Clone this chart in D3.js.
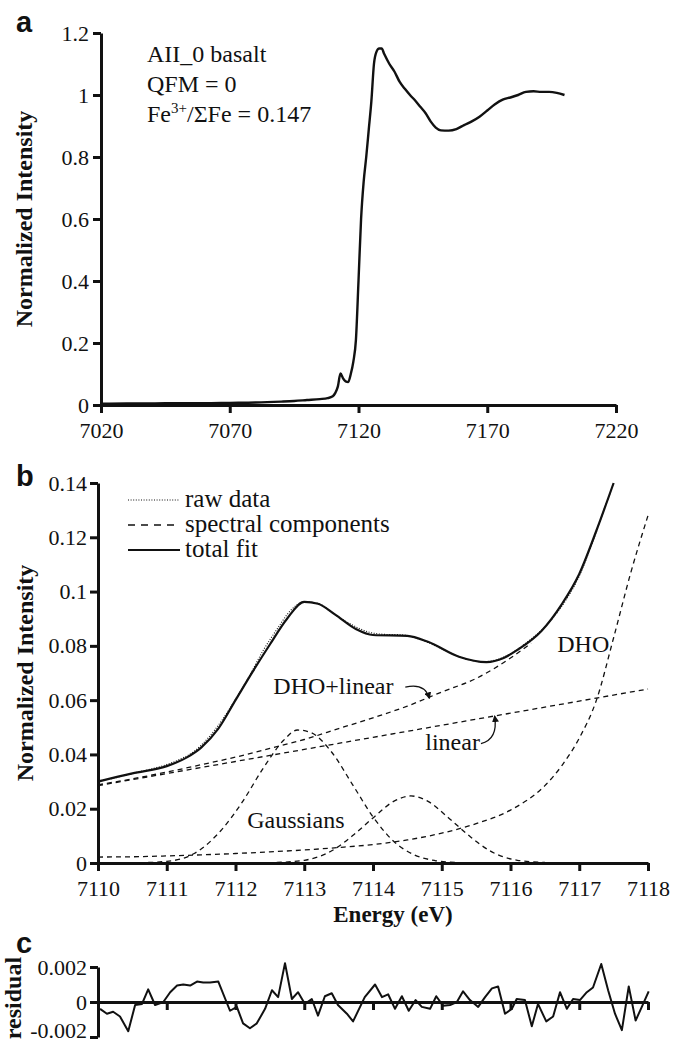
<!DOCTYPE html>
<html>
<head>
<meta charset="utf-8">
<script src="https://cdn.jsdelivr.net/npm/d3@7"></script>
<style>
  body { margin: 0; background: #fff; }
  svg { display: block; background: #fff; }
  svg text { font-family: "Liberation Serif", "Times New Roman", serif !important; fill: #111; }
  .axis path, .axis line { stroke: #111; stroke-width: 3; }
  svg .axis text { font-size: 22px !important; }
  svg text.panel-letter { font-family: "Liberation Sans", Arial, sans-serif !important; font-weight: bold; font-size: 29px; }
  .ytitle { font-weight: bold; font-size: 24px; }
</style>
</head>
<body>
<svg id="chart" width="676" height="1044"></svg>
<script>
// ---------- (a) full XANES spectrum ----------
const edgeEnergy = [7020, 7030, 7040, 7050, 7060, 7070, 7080, 7090, 7095, 7100, 7105, 7108, 7110,
  7111, 7112, 7113, 7114, 7115, 7116, 7117, 7118, 7119, 7120, 7121, 7122, 7123, 7124, 7125, 7126,
  7127, 7128, 7129, 7130, 7132, 7134, 7136, 7138, 7140, 7142, 7144, 7146, 7148, 7150, 7152, 7155,
  7158, 7161, 7164, 7167, 7170, 7173, 7176, 7179, 7182, 7185, 7188, 7191, 7194, 7197, 7200];
const edgeIntensity = [0.004, 0.005, 0.005, 0.006, 0.006, 0.007, 0.008, 0.011, 0.013, 0.016, 0.019, 0.022, 0.028,
  0.039, 0.060, 0.102, 0.086, 0.076, 0.074, 0.100, 0.140, 0.210, 0.400, 0.600, 0.720, 0.800, 0.890, 0.980, 1.100,
  1.140, 1.150, 1.150, 1.132, 1.100, 1.075, 1.042, 1.020, 1.000, 0.982, 0.962, 0.942, 0.915, 0.895, 0.886, 0.885,
  0.890, 0.903, 0.915, 0.930, 0.950, 0.970, 0.985, 0.992, 1.000, 1.010, 1.012, 1.010, 1.010, 1.007, 1.000];
const edgeXTicks = [7020, 7070, 7120, 7170, 7220];
const edgeYTicks = [0, 0.2, 0.4, 0.6, 0.8, 1, 1.2];

// ---------- (b) pre-edge fit ----------
const rawEnergy = [7110.0, 7110.2, 7110.4, 7110.6, 7110.8, 7111.0, 7111.2, 7111.4, 7111.6, 7111.8,
  7112.0, 7112.2, 7112.4, 7112.6, 7112.8, 7113.0, 7113.2, 7113.4, 7113.6, 7113.8, 7114.0, 7114.2,
  7114.4, 7114.6, 7114.8, 7115.0, 7115.2, 7115.4, 7115.6, 7115.8, 7116.0, 7116.2, 7116.4, 7116.6,
  7116.8, 7117.0, 7117.2, 7117.4, 7117.5];
const rawValues = [0.0303, 0.0311, 0.0323, 0.0336, 0.0348, 0.0363, 0.0383, 0.0412, 0.0460, 0.0525,
  0.0603, 0.0688, 0.0782, 0.0860, 0.0930, 0.0962, 0.0957, 0.0923, 0.0891, 0.0864, 0.0847, 0.0842,
  0.0841, 0.0831, 0.0812, 0.0789, 0.0765, 0.0748, 0.0741, 0.0749, 0.0771, 0.0806, 0.0846, 0.0898,
  0.0966, 0.1057, 0.1186, 0.1330, 0.1397];

const fitEnergy = [7110.0, 7110.5, 7111.0, 7111.3, 7111.5, 7111.75, 7112.0, 7112.25, 7112.5, 7112.75,
  7113.0, 7113.2, 7113.45, 7113.75, 7114.0, 7114.5, 7114.8, 7115.25, 7115.65, 7115.9, 7116.1, 7116.45,
  7116.75, 7117.0, 7117.25, 7117.5];
const fitValues = [0.0300, 0.0330, 0.0357, 0.0390, 0.0425, 0.0495, 0.0600, 0.0705, 0.0805, 0.0900,
  0.0962, 0.0955, 0.0915, 0.0862, 0.0840, 0.0837, 0.0815, 0.0760, 0.0740, 0.0755, 0.0785, 0.0855,
  0.0955, 0.1065, 0.1225, 0.1400];

const dhoLinEnergy = [7110.0, 7110.5, 7111.0, 7111.5, 7112.0, 7112.5, 7113.0, 7113.5, 7114.0, 7114.5,
  7115.0, 7115.5, 7116.0, 7116.3];
const dhoLinValues = [0.0288, 0.0310, 0.0335, 0.0362, 0.0390, 0.0422, 0.0455, 0.0495, 0.0535, 0.0578,
  0.0630, 0.0680, 0.0755, 0.0810];

const linearEnergy = [7110, 7112, 7114, 7116, 7118];
const linearValues = [0.0285, 0.0374, 0.0463, 0.0552, 0.0641];

const dhoEnergy = [7110.0, 7110.5, 7111.0, 7111.5, 7112.0, 7112.5, 7113.0, 7113.5, 7114.0, 7114.5,
  7115.0, 7115.5, 7116.0, 7116.5, 7116.75, 7117.0, 7117.25, 7117.5, 7117.75, 7118.0];
const dhoValues = [0.0022, 0.0023, 0.0026, 0.0030, 0.0035, 0.0041, 0.0048, 0.0057, 0.0068, 0.0085,
  0.0110, 0.0145, 0.0195, 0.0285, 0.0360, 0.0460, 0.0600, 0.0830, 0.1070, 0.1280];

const gauss1Energy = [7110.6, 7111.0, 7111.4, 7111.8, 7112.1, 7112.4, 7112.7, 7112.9, 7113.1, 7113.4,
  7113.7, 7114.0, 7114.3, 7114.6, 7114.9, 7115.2];
const gauss1Values = [0.0001, 0.0006, 0.0035, 0.0123, 0.0225, 0.0348, 0.0452, 0.0490, 0.0480, 0.0408,
  0.0290, 0.0170, 0.0080, 0.0030, 0.0009, 0.0002];

const gauss2Energy = [7112.6, 7113.0, 7113.4, 7113.7, 7114.0, 7114.3, 7114.55, 7114.8, 7115.1, 7115.4,
  7115.7, 7116.1, 7116.5];
const gauss2Values = [0.0002, 0.0010, 0.0045, 0.0100, 0.0166, 0.0227, 0.0247, 0.0227, 0.0166, 0.0100,
  0.0045, 0.0010, 0.0002];

const fitXTicks = [7110, 7111, 7112, 7113, 7114, 7115, 7116, 7117, 7118];
const fitYTicks = [0, 0.02, 0.04, 0.06, 0.08, 0.1, 0.12, 0.14];

// ---------- (c) residual of the fit ----------
const residualEnergy = [7110.03, 7110.13, 7110.22, 7110.32, 7110.44, 7110.54, 7110.64, 7110.73, 7110.83,
  7110.95, 7111.05, 7111.15, 7111.24, 7111.34, 7111.44, 7111.53, 7111.63, 7111.75, 7111.92, 7112.02,
  7112.11, 7112.21, 7112.31, 7112.43, 7112.53, 7112.62, 7112.72, 7112.82, 7112.91, 7113.01, 7113.11,
  7113.20, 7113.30, 7113.40, 7113.49, 7113.62, 7113.71, 7113.88, 7114.03, 7114.13, 7114.22, 7114.32,
  7114.42, 7114.52, 7114.62, 7114.71, 7114.83, 7114.92, 7115.02, 7115.12, 7115.22, 7115.31, 7115.41,
  7115.53, 7115.63, 7115.73, 7115.82, 7115.92, 7116.02, 7116.09, 7116.21, 7116.31, 7116.40, 7116.52,
  7116.62, 7116.72, 7116.82, 7116.91, 7117.01, 7117.11, 7117.20, 7117.32, 7117.42, 7117.52, 7117.62,
  7117.72, 7117.82, 7117.91, 7118.01];
const residualValues = [-0.00039, -0.00067, -0.00056, -0.00083, -0.00167, -0.00017, -0.00011, 0.00072, -0.00017,
  0.00000, 0.00056, 0.00094, 0.00100, 0.00094, 0.00117, 0.00111, 0.00111, 0.00117, -0.00050, -0.00028,
  -0.00122, -0.00150, -0.00122, -0.00039, 0.00067, 0.00028, 0.00222, 0.00017, 0.00056, -0.00011, 0.00017,
  -0.00078, 0.00033, 0.00050, -0.00017, -0.00067, -0.00111, 0.00028, 0.00100, 0.00028, 0.00044, -0.00039,
  0.00033, -0.00050, 0.00011, -0.00028, -0.00039, 0.00033, -0.00022, -0.00017, 0.00000, 0.00061, 0.00011,
  -0.00028, 0.00028, 0.00078, 0.00089, -0.00067, -0.00039, 0.00017, 0.00011, -0.00139, -0.00011, -0.00111,
  -0.00083, 0.00056, -0.00039, 0.00017, 0.00011, 0.00056, 0.00083, 0.00217, 0.00067, -0.00067, -0.00161,
  0.00089, -0.00106, -0.00028, 0.00061];
const residualYTicks = [-0.002, 0, 0.002];

// ---------- layout ----------
const svg = d3.select("#chart");
const ink = "#111";

const xA = d3.scaleLinear().domain([7020, 7220]).range([101, 616]);
const yA = d3.scaleLinear().domain([0, 1.2]).range([405, 33]);
const xB = d3.scaleLinear().domain([7110, 7118]).range([98, 648]);
const yB = d3.scaleLinear().domain([0, 0.14]).range([863, 483]);
const xC = d3.scaleLinear().domain([7110, 7118]).range([98, 648]);
const yC = d3.scaleLinear().domain([-0.002, 0.002]).range([1037, 967]);

const zip = (xs, ys) => xs.map((x, i) => [x, ys[i]]);

function drawLine(data, sx, sy, opts) {
  const gen = d3.line().x(d => sx(d[0])).y(d => sy(d[1])).curve(opts.curve || d3.curveMonotoneX);
  svg.append("path")
    .datum(data)
    .attr("d", gen)
    .attr("fill", "none")
    .attr("stroke", ink)
    .attr("stroke-width", opts.width)
    .attr("stroke-dasharray", opts.dash || null)
    .attr("stroke-linejoin", "round")
    .attr("stroke-linecap", opts.cap || "butt");
}

// arrowhead for the component labels
svg.append("defs").append("marker")
  .attr("id", "head")
  .attr("viewBox", "0 0 10 10")
  .attr("refX", 8).attr("refY", 5)
  .attr("markerWidth", 7).attr("markerHeight", 7)
  .attr("markerUnits", "userSpaceOnUse")
  .attr("orient", "auto")
  .append("path").attr("d", "M0,0 L10,5 L0,10 Z").attr("fill", ink);

// ================= panel a =================
svg.append("g").attr("class", "axis")
  .attr("transform", `translate(0,${yA(0)})`)
  .call(d3.axisBottom(xA).tickValues(edgeXTicks).tickSize(8).tickSizeOuter(0).tickPadding(9).tickFormat(d3.format("d")));
svg.append("g").attr("class", "axis")
  .attr("transform", `translate(${xA(7020)},0)`)
  .call(d3.axisLeft(yA).tickValues(edgeYTicks).tickSize(8).tickSizeOuter(0).tickPadding(4).tickFormat(d => String(d)));

drawLine(zip(edgeEnergy, edgeIntensity), xA, yA, { width: 2.4, curve: d3.curveMonotoneX });

svg.append("text").attr("class", "panel-letter").attr("x", 16).attr("y", 32).text("a");
svg.append("text").attr("class", "ytitle")
  .attr("transform", `translate(32,${(yA(0) + yA(1.2)) / 2}) rotate(-90)`)
  .attr("text-anchor", "middle").text("Normalized Intensity");

const info = svg.append("g").attr("font-size", 24);
info.append("text").attr("x", 147).attr("y", 62).text("AII_0 basalt");
info.append("text").attr("x", 147).attr("y", 92).text("QFM = 0");
const fe = info.append("text").attr("x", 147).attr("y", 122);
fe.append("tspan").text("Fe");
fe.append("tspan").attr("font-size", 15).attr("dy", -9).text("3+");
fe.append("tspan").attr("dy", 9).text("/ΣFe = 0.147");

// ================= panel b =================
svg.append("g").attr("class", "axis")
  .attr("transform", `translate(0,${yB(0)})`)
  .call(d3.axisBottom(xB).tickValues(fitXTicks).tickSize(8).tickSizeOuter(0).tickPadding(9).tickFormat(d3.format("d")));
svg.append("g").attr("class", "axis")
  .attr("transform", `translate(${xB(7110)},0)`)
  .call(d3.axisLeft(yB).tickValues(fitYTicks).tickSize(8).tickSizeOuter(0).tickPadding(3).tickFormat(d => String(d)));

const dash = "5,4";
drawLine(zip(linearEnergy, linearValues), xB, yB, { width: 1.3, dash, curve: d3.curveLinear });
drawLine(zip(dhoEnergy, dhoValues), xB, yB, { width: 1.3, dash });
drawLine(zip(dhoLinEnergy, dhoLinValues), xB, yB, { width: 1.3, dash });
drawLine(zip(gauss1Energy, gauss1Values), xB, yB, { width: 1.3, dash });
drawLine(zip(gauss2Energy, gauss2Values), xB, yB, { width: 1.3, dash });
drawLine(zip(rawEnergy, rawValues), xB, yB, { width: 1.1, dash: "1,1.6" });
drawLine(zip(fitEnergy, fitValues), xB, yB, { width: 2.2 });

svg.append("text").attr("class", "panel-letter").attr("x", 16).attr("y", 486).text("b");
svg.append("text").attr("class", "ytitle")
  .attr("transform", `translate(33,${(yB(0) + yB(0.14)) / 2}) rotate(-90)`)
  .attr("text-anchor", "middle").text("Normalized Intensity");
svg.append("text").attr("x", (xB(7110) + xB(7118)) / 2 + 20).attr("y", 922)
  .attr("text-anchor", "middle").attr("font-weight", "bold").attr("font-size", 23).text("Energy (eV)");

// legend
const legendItems = [
  { label: "raw data", dash: "1,1.6", width: 1.1 },
  { label: "spectral components", dash: "7,6", width: 1.4 },
  { label: "total fit", dash: null, width: 2.2 }
];
const legend = svg.append("g").attr("transform", "translate(128,500)");
legendItems.forEach((d, i) => {
  legend.append("line").attr("x1", 0).attr("x2", 52).attr("y1", i * 25).attr("y2", i * 25)
    .attr("stroke", ink).attr("stroke-width", d.width).attr("stroke-dasharray", d.dash);
  legend.append("text").attr("x", 57).attr("y", i * 25 + 7).attr("font-size", 25).text(d.label);
});

// component labels
const labels = svg.append("g").attr("font-size", 24);
labels.append("text").attr("x", xB(7112.55)).attr("y", yB(0.0623)).text("DHO+linear");
labels.append("text").attr("x", xB(7114.76)).attr("y", yB(0.0416)).text("linear");
labels.append("text").attr("x", xB(7116.68)).attr("y", yB(0.0777)).text("DHO");
labels.append("text").attr("x", xB(7112.17)).attr("y", yB(0.0129)).text("Gaussians");

function arrow(from, ctrl, to) {
  const p = d3.path();
  p.moveTo(xB(from[0]), yB(from[1]));
  p.quadraticCurveTo(xB(ctrl[0]), yB(ctrl[1]), xB(to[0]), yB(to[1]));
  svg.append("path").attr("d", p.toString()).attr("fill", "none")
    .attr("stroke", ink).attr("stroke-width", 1.3).attr("marker-end", "url(#head)");
}
arrow([7114.47, 0.0648], [7114.75, 0.0665], [7114.82, 0.0608]);
arrow([7115.57, 0.0440], [7115.82, 0.0455], [7115.77, 0.0540]);

// ================= panel c =================
svg.append("g").attr("class", "axis")
  .attr("transform", `translate(0,${yC(0)})`)
  .call(d3.axisBottom(xC).tickValues(fitXTicks).tickSize(8).tickSizeOuter(0).tickFormat(""));
const residualAxis = svg.append("g").attr("class", "axis")
  .attr("transform", `translate(${xC(7110)},0)`)
  .call(d3.axisLeft(yC).tickValues(residualYTicks).tickSize(8).tickSizeOuter(0).tickPadding(3).tickFormat(d => String(d)));
// keep the lowest label inside the frame
residualAxis.selectAll(".tick text").filter(d => d < 0).attr("dy", "0.02em");

drawLine(zip(residualEnergy, residualValues), xC, yC, { width: 2, curve: d3.curveLinear });

svg.append("text").attr("class", "panel-letter").attr("x", 16).attr("y", 953).text("c");
svg.append("text").attr("class", "ytitle")
  .attr("transform", `translate(21,${(yC(-0.002) + yC(0.002)) / 2 - 4}) rotate(-90)`)
  .attr("text-anchor", "middle").text("residual");
</script>
</body>
</html>
